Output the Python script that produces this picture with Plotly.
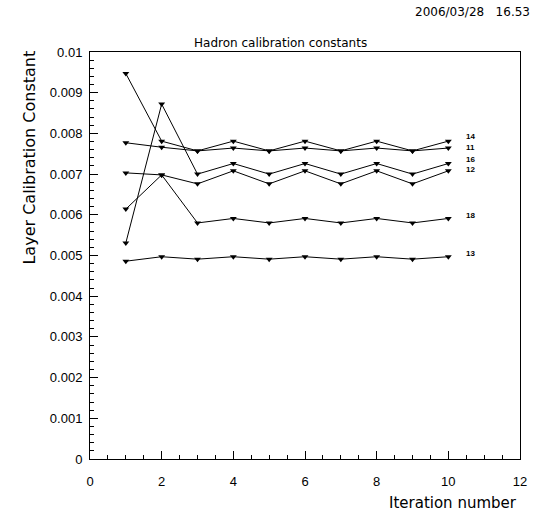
import plotly.graph_objects as go

# Calibration constant per layer for each iteration
iterations = [1, 2, 3, 4, 5, 6, 7, 8, 9, 10]
layer_ids = ["14", "11", "16", "12", "18", "13"]
layer_14 = [0.00947, 0.00781, 0.00757, 0.00781, 0.00757, 0.00781, 0.00757, 0.00781, 0.00757, 0.00781]
layer_11 = [0.00777, 0.00766, 0.00757, 0.00764, 0.00757, 0.00764, 0.00757, 0.00764, 0.00757, 0.00764]
layer_16 = [0.00531, 0.00872, 0.00700, 0.00726, 0.00700, 0.00726, 0.00700, 0.00726, 0.00700, 0.00726]
layer_12 = [0.00703, 0.00698, 0.00676, 0.00708, 0.00676, 0.00708, 0.00676, 0.00708, 0.00676, 0.00708]
layer_18 = [0.00614, 0.00698, 0.00580, 0.00591, 0.00580, 0.00591, 0.00580, 0.00591, 0.00580, 0.00591]
layer_13 = [0.00486, 0.00497, 0.00491, 0.00497, 0.00491, 0.00497, 0.00491, 0.00497, 0.00491, 0.00497]
series = [layer_14, layer_11, layer_16, layer_12, layer_18, layer_13]
# vertical nudge (px) of each end label so close pairs stay readable
label_shift = [5, 1, 4, 1, 3, 3]

x_ticks = [0, 2, 4, 6, 8, 10, 12]
y_ticks = [0, 0.001, 0.002, 0.003, 0.004, 0.005, 0.006, 0.007, 0.008, 0.009, 0.01]
y_tick_text = ["0", "0.001", "0.002", "0.003", "0.004", "0.005", "0.006", "0.007", "0.008", "0.009", "0.01"]

FONT = "Liberation Sans"
WIDE = "DejaVu Sans"

fig = go.Figure()
for name, vals, dy in zip(layer_ids, series, label_shift):
    fig.add_trace(go.Scatter(
        x=iterations, y=vals, mode="lines+markers", name=name,
        line=dict(color="black", width=1),
        marker=dict(symbol="triangle-down", size=6, color="black"),
        showlegend=False,
    ))
    fig.add_annotation(
        x=10.45, y=vals[-1], xref="x", yref="y", text=f"<b>{name}</b>",
        showarrow=False, xanchor="left", yanchor="middle", yshift=dy,
        font=dict(family=FONT, size=8, color="black"),
    )

# Title, timestamp and axis titles
fig.add_annotation(x=0.444, y=1.022, xref="paper", yref="paper",
                   text="Hadron calibration constants", showarrow=False,
                   xanchor="center", yanchor="middle",
                   font=dict(family=WIDE, size=12, color="black"))
fig.add_annotation(x=1.028, y=1.098, xref="paper", yref="paper",
                   text="2006/03/28&nbsp;&nbsp;&nbsp;16.53", showarrow=False,
                   xanchor="right", yanchor="middle",
                   font=dict(family=WIDE, size=12, color="black"))
fig.add_annotation(x=-0.14, y=1.008, xref="paper", yref="paper",
                   text="Layer Calibration Constant", showarrow=False,
                   textangle=-90, xanchor="center", yanchor="top",
                   font=dict(family=WIDE, size=16, color="black"))
fig.add_annotation(x=0.998, y=-0.108, xref="paper", yref="paper",
                   text="Iteration number", showarrow=False,
                   xanchor="right", yanchor="middle",
                   font=dict(family=WIDE, size=15, color="black"))

axis_common = dict(
    showline=True, linecolor="black", linewidth=1, mirror=True,
    showgrid=False, zeroline=False, ticks="inside", ticklen=8,
    tickcolor="black", tickwidth=1,
    tickfont=dict(family=FONT, size=13, color="black"),
)

fig.update_xaxes(range=[0, 12], tickvals=x_ticks, ticktext=[str(v) for v in x_ticks],
                 ticklabelstandoff=10,
                 minor=dict(ticks="inside", ticklen=4, dtick=0.5, tickcolor="black"),
                 **axis_common)
fig.update_yaxes(range=[0, 0.01], tickvals=y_ticks, ticktext=y_tick_text,
                 ticklabelstandoff=4,
                 minor=dict(ticks="inside", ticklen=4, dtick=0.0002, tickcolor="black"),
                 **axis_common)

fig.update_layout(
    width=540, height=515,
    margin=dict(l=90, r=20, t=52, b=56),
    paper_bgcolor="white", plot_bgcolor="white",
)

fig.write_html("out.html")
